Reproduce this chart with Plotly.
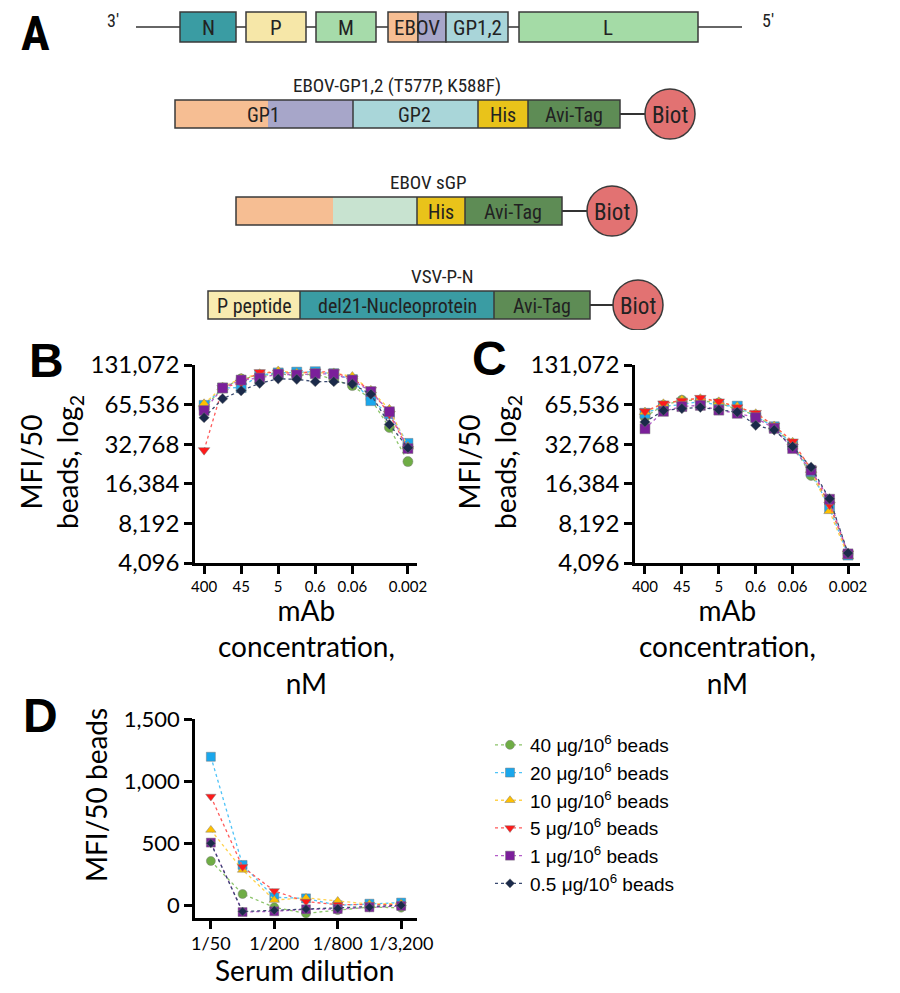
import plotly.graph_objects as go

W, H = 900, 993

# ---------------- data ----------------
series_names = ["40 μg/10<sup>6</sup> beads", "20 μg/10<sup>6</sup> beads",
                "10 μg/10<sup>6</sup> beads", "5 μg/10<sup>6</sup> beads",
                "1 μg/10<sup>6</sup> beads", "0.5 μg/10<sup>6</sup> beads"]
marker_colors = ["#6FAD45", "#1AA7EC", "#FFC000", "#FF1A1A", "#7B1F9A", "#1B2A4A"]
line_colors = ["#8CC46A", "#4FC3F7", "#FFD24D", "#FF5A5A", "#B45CC8", "#3A4A70"]
marker_symbols = ["circle", "square", "triangle-up", "triangle-down", "square", "diamond"]
marker_sizes = [10, 10, 10, 10, 10, 8]

# mAb concentration (nM), 3-fold dilutions
conc_nM = [400, 133.3, 44.44, 14.81, 4.938, 1.646, 0.5487, 0.1829, 0.06097,
           0.02032, 0.006774, 0.002258]
conc_tickvals = [400, 44.44, 4.938, 0.5487, 0.06097, 0.002258]
conc_ticktext = ["400", "45", "5", "0.6", "0.06", "0.002"]

log2_tickvals = [12, 13, 14, 15, 16, 17]
log2_ticktext = ["4,096", "8,192", "16,384", "32,768", "65,536", "131,072"]

# panel B, MFI/50 beads (log2)
b_40 = [15.92, 16.42, 16.65, 16.73, 16.78, 16.73, 16.78, 16.63, 16.48, 16.14, 15.42, 14.56]
b_20 = [15.98, 16.42, 16.43, 16.75, 16.80, 16.82, 16.83, 16.78, 16.63, 16.10, 15.77, 15.02]
b_10 = [16.02, 16.44, 16.66, 16.78, 16.85, 16.80, 16.80, 16.80, 16.71, 16.36, 15.88, 14.94]
b_5 = [14.85, 16.42, 16.56, 16.82, 16.80, 16.80, 16.83, 16.82, 16.65, 16.37, 15.76, 14.88]
b_1 = [15.85, 16.42, 16.62, 16.67, 16.77, 16.75, 16.78, 16.77, 16.62, 16.33, 15.82, 14.89]
b_05 = [15.67, 16.15, 16.35, 16.54, 16.65, 16.64, 16.58, 16.58, 16.52, 16.26, 15.50, 14.91]

# panel C, MFI/50 beads (log2)
c_40 = [15.69, 15.98, 16.11, 16.10, 16.04, 15.88, 15.73, 15.42, 15.00, 14.21, 13.52, 12.22]
c_20 = [15.78, 15.96, 16.00, 16.08, 15.98, 15.96, 15.70, 15.44, 14.98, 14.31, 13.39, 12.20]
c_10 = [15.81, 16.02, 16.12, 16.15, 16.07, 15.95, 15.77, 15.46, 15.05, 14.35, 13.31, 12.17]
c_5 = [15.83, 16.03, 16.10, 16.17, 16.08, 15.93, 15.79, 15.47, 15.07, 14.37, 13.47, 12.24]
c_1 = [15.39, 15.83, 15.95, 15.98, 15.86, 15.78, 15.67, 15.40, 14.89, 14.34, 13.61, 12.23]
c_05 = [15.56, 15.85, 15.90, 15.93, 15.87, 15.81, 15.48, 15.36, 14.94, 14.42, 13.62, 12.25]

# panel D, serum dilution
dilution = [50, 100, 200, 400, 800, 1600, 3200]
dilution_tickvals = [50, 200, 800, 3200]
dilution_ticktext = ["1/50", "1/200", "1/800", "1/3,200"]
d_40 = [357, 91, -16, -65, -38, -15, -19]
d_20 = [1196, 325, 65, 56, 0, 13, 22]
d_10 = [607, 285, 43, 60, 35, 10, 15]
d_5 = [876, 310, 116, 30, 5, 5, 5]
d_1 = [505, -54, -48, -32, -30, -16, -5]
d_05 = [500, -50, -40, -30, -25, -16, 0]

panel_b = [b_40, b_20, b_10, b_5, b_1, b_05]
panel_c = [c_40, c_20, c_10, c_5, c_1, c_05]
panel_d = [d_40, d_20, d_10, d_5, d_1, d_05]

# ---------------- schematic (panel A), pixel layout ----------------
genome_boxes = [  # x0, x1, fill
    (180, 236, "#3A9CA3"),
    (246, 306, "#F6E7A8"),
    (316, 376, "#A6DBAA"),
    (388, 418, "#F6BE93"),
    (418, 446, "#A7A6C9"),
    (446, 508, "#A9D5D9"),
    (519, 698, "#A4DBA6"),
]
genome_texts = [(208, "N"), (276, "P"), (346, "M"), (417, "EBOV"), (477, "GP1,2"), (608, "L")]

constructs = [  # title, title_x, y_top, segments [(x0, x1, fill)], labels [(x, text)], biot_x
    ("EBOV-GP1,2 (T577P, K588F)", 397, 100,
     [(175, 268, "#F6BE93"), (268, 353, "#A7A6C9"), (353, 478, "#A9D6D9"),
      (478, 528, "#E9C31A"), (528, 620, "#5E8C55")],
     [(263, "GP1"), (414, "GP2"), (503, "His"), (574, "Avi-Tag")], 670),
    ("EBOV sGP", 428, 197,
     [(236, 333, "#F6BE93"), (333, 417, "#C8E3D0"), (417, 465, "#E9C31A"),
      (465, 562, "#5E8C55")],
     [(441, "His"), (513, "Avi-Tag")], 612),
    ("VSV-P-N", 442, 291,
     [(208, 300, "#F8EBB0"), (300, 494, "#3A9CA3"), (494, 590, "#5E8C55")],
     [(254, "P peptide"), (397, "del21-Nucleoprotein"), (542, "Avi-Tag")], 638),
]

NARROW = "Roboto Condensed, DejaVu Sans Condensed, Liberation Sans Narrow, Roboto, sans-serif"
AXFONT = "Lato, Open Sans, sans-serif"


def px(x, y):
    return x / W, 1 - y / H


fig = go.Figure()

# panel B and C traces
for data, xa, ya in [(panel_b, "x", "y"), (panel_c, "x2", "y2")]:
    for i, ys in enumerate(data):
        fig.add_trace(go.Scatter(
            x=conc_nM, y=ys, xaxis=xa, yaxis=ya, mode="lines+markers",
            line=dict(color=line_colors[i], width=1.3, dash="dot"),
            marker=dict(symbol=marker_symbols[i], size=marker_sizes[i], color=marker_colors[i],
                        line=dict(color="rgba(120,120,120,0.6)", width=0.8)),
            showlegend=False, cliponaxis=False, hoverinfo="skip"))

# panel D traces (legend)
for i, ys in enumerate(panel_d):
    fig.add_trace(go.Scatter(
        x=dilution, y=ys, xaxis="x3", yaxis="y3", mode="lines+markers",
        name=series_names[i],
        line=dict(color=line_colors[i], width=1.3, dash="dot"),
        marker=dict(symbol=marker_symbols[i], size=marker_sizes[i] - 1, color=marker_colors[i],
                    line=dict(color="rgba(120,120,120,0.6)", width=0.8)),
        cliponaxis=False))

axis_common = dict(showline=True, linecolor="black", linewidth=2.5, ticks="outside",
                   ticklen=8, tickwidth=2.5, tickcolor="black", showgrid=False,
                   zeroline=False, mirror=False, automargin=False)

log3 = 0.4771
fig.update_layout(
    width=W, height=H, margin=dict(l=0, r=0, t=0, b=0, autoexpand=False),
    paper_bgcolor="white", plot_bgcolor="white",
    xaxis=dict(axis_common, domain=[195 / W, 417 / W], anchor="y", type="log",
               range=[2.602 + 0.49 * log3, -2.646 - 0.49 * log3], tickangle=0,
               tickvals=conc_tickvals, ticktext=conc_ticktext,
               tickfont=dict(family=AXFONT, size=15, color="black")),
    yaxis=dict(axis_common, domain=[1 - 563 / H, 1 - 365 / H], anchor="x",
               range=[12, 17], tickvals=log2_tickvals, ticktext=log2_ticktext,
               tickfont=dict(family=AXFONT, size=24, color="black")),
    xaxis2=dict(axis_common, domain=[635 / W, 860 / W], anchor="y2", type="log",
                range=[2.602 + 0.54 * log3, -2.646 - 0.65 * log3], tickangle=0,
                tickvals=conc_tickvals, ticktext=conc_ticktext,
                tickfont=dict(family=AXFONT, size=15, color="black")),
    yaxis2=dict(axis_common, domain=[1 - 563 / H, 1 - 365 / H], anchor="x2",
                range=[12, 17], tickvals=log2_tickvals, ticktext=log2_ticktext,
                tickfont=dict(family=AXFONT, size=24, color="black")),
    xaxis3=dict(axis_common, domain=[195 / W, 417 / W], anchor="y3", type="log",
                range=[1.699 - 0.5 * 0.301, 3.505 + 0.5 * 0.301], tickangle=0,
                tickvals=dilution_tickvals, ticktext=dilution_ticktext,
                tickfont=dict(family=AXFONT, size=18, color="black")),
    yaxis3=dict(axis_common, domain=[1 - 918 / H, 1 - 719 / H], anchor="x3",
                range=[-102, 1500], tickvals=[0, 500, 1000, 1500],
                ticktext=["0", "500", "1,000", "1,500"],
                tickfont=dict(family=AXFONT, size=22, color="black")),
    xaxis4=dict(domain=[0, 1], range=[0, W], visible=False, anchor="y4"),
    yaxis4=dict(domain=[1 - 330 / H, 1], range=[330, 0], visible=False, anchor="x4"),
    legend=dict(x=490 / W, y=1 - 726 / H, xanchor="left", yanchor="top",
                font=dict(family="Liberation Sans, Arial, sans-serif", size=19, color="black"),
                bgcolor="rgba(0,0,0,0)", itemwidth=30, tracegroupgap=0),
)

shapes = []
ann = []

# genome row
shapes.append(dict(type="line", xref="x4", yref="y4", x0=136, x1=742, y0=27, y1=27,
                   line=dict(color="#333", width=1.5), layer="below"))
for x0, x1, fill in genome_boxes:
    shapes.append(dict(type="rect", xref="x4", yref="y4", x0=x0, x1=x1, y0=12, y1=42,
                       fillcolor=fill, line=dict(color="#3A3A3A", width=1.5)))
for x, t in genome_texts:
    ann.append(dict(x=x, y=28, xref="x4", yref="y4", text=t, showarrow=False,
                    xanchor="center", yanchor="middle",
                    font=dict(family=NARROW, size=21, color="#222")))
ann.append(dict(x=113, y=20, xref="x4", yref="y4", text="3'", showarrow=False,
                xanchor="center", yanchor="middle",
                font=dict(family=NARROW, size=18, color="#222")))
ann.append(dict(x=768, y=20, xref="x4", yref="y4", text="5'", showarrow=False,
                xanchor="center", yanchor="middle",
                font=dict(family=NARROW, size=18, color="#222")))

# constructs
for title, tx, yt, segs, labels, bx in constructs:
    yb = yt + 28
    ym = yt + 14
    ann.append(dict(x=tx, y=yt - 15, xref="x4", yref="y4", text=title, showarrow=False,
                    xanchor="center", yanchor="middle",
                    font=dict(family=NARROW, size=19, color="#222")))
    shapes.append(dict(type="line", xref="x4", yref="y4", x0=segs[-1][1], x1=bx - 24,
                       y0=ym, y1=ym, line=dict(color="#333", width=2)))
    for x0, x1, fill in segs:
        shapes.append(dict(type="rect", xref="x4", yref="y4", x0=x0, x1=x1, y0=yt, y1=yb,
                           fillcolor=fill, line=dict(width=0)))
    shapes.append(dict(type="rect", xref="x4", yref="y4", x0=segs[0][0], x1=segs[-1][1],
                       y0=yt, y1=yb, line=dict(color="#3A3A3A", width=1.5)))
    for x0, x1, fill in segs[1:]:
        if fill not in ("#A7A6C9", "#C8E3D0"):
            shapes.append(dict(type="line", xref="x4", yref="y4", x0=x0, x1=x0, y0=yt, y1=yb,
                               line=dict(color="#3A3A3A", width=1.5)))
    for x, t in labels:
        ann.append(dict(x=x, y=ym + 1, xref="x4", yref="y4", text=t, showarrow=False,
                        xanchor="center", yanchor="middle",
                        font=dict(family=NARROW, size=20, color="#222")))
    shapes.append(dict(type="circle", xref="x4", yref="y4", x0=bx - 25, x1=bx + 25,
                       y0=ym - 25, y1=ym + 25, fillcolor="#E27272",
                       line=dict(color="#3A3A3A", width=1.5)))
    ann.append(dict(x=bx, y=ym + 1, xref="x4", yref="y4", text="Biot", showarrow=False,
                    xanchor="center", yanchor="middle",
                    font=dict(family=NARROW, size=23, color="#222")))

# panel letters
for t, x, y, fam in [("A", 35, 33, NARROW), ("B", 46, 360, "Liberation Sans, Arial"),
                     ("C", 490, 358, "Liberation Sans, Arial"),
                     ("D", 40, 715, "Liberation Sans, Arial")]:
    xx, yy = px(x, y)
    ann.append(dict(x=xx, y=yy, xref="paper", yref="paper", text=f"<b>{t}</b>",
                    xanchor="center", yanchor="middle",
                    showarrow=False, font=dict(family=fam, size=48, color="black")))


# axis titles
def title(text, x, y, angle=0, size=28):
    xx, yy = px(x, y)
    ann.append(dict(x=xx, y=yy, xref="paper", yref="paper", text=text, showarrow=False,
                    xanchor="center", yanchor="middle",
                    textangle=angle, font=dict(family=AXFONT, size=size, color="black")))


title("MFI/50<br>beads, log<sub>2</sub>", 51, 462, -90)
title("MFI/50<br>beads, log<sub>2</sub>", 489, 462, -90)
title("mAb<br>concentration,<br>nM", 306, 646)
title("mAb<br>concentration,<br>nM", 727, 646)
title("MFI/50 beads", 96, 795, -90)
title("Serum dilution", 304, 970)

fig.update_layout(shapes=shapes, annotations=ann)
# drop the default page margin so the figure sits at the window's top-left corner
fig.write_html("out.html", config={"displayModeBar": False},
               post_script="document.body.style.margin='0';")
